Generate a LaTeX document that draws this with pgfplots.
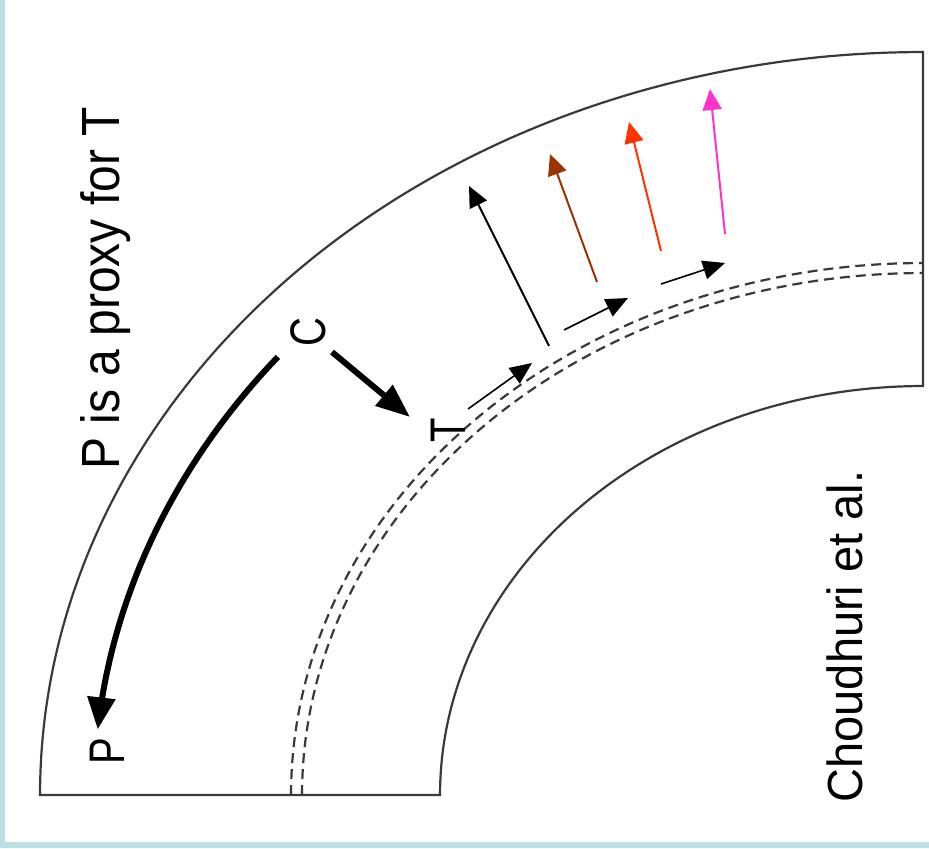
\documentclass[border=0pt]{standalone}
\usepackage{pgfplots}
\pgfplotsset{compat=1.18}
\usepackage{fontspec}
\setmainfont{Liberation Sans}
\usetikzlibrary{arrows.meta}
\definecolor{frameblue}{HTML}{B9E0E3}
\definecolor{linegray}{HTML}{3A3A3A}
\definecolor{brownc}{HTML}{993300}
\definecolor{redc}{HTML}{FF3300}
\definecolor{magc}{HTML}{FF33CC}
\begin{document}
\begin{tikzpicture}
\begin{axis}[
  scale only axis, width=464.5pt, height=424pt,
  xmin=0, xmax=929, ymin=-848, ymax=0,
  hide axis, clip=false,
]
% frame
\fill[frameblue] (0,-848) rectangle (929,0);
\fill[white] (5,-842) rectangle (929,0);
% quarter annulus outline
\draw[linegray, line width=1.1pt, line join=miter, variable=\t, samples=120]
  (440,-795) -- (40,-795)
  -- plot[domain=180:90] ({923+883*cos(\t)},{-795+743*sin(\t)})
  -- (923,-386)
  -- plot[domain=90:180] ({923+483*cos(\t)},{-795+409*sin(\t)})
  -- cycle;
% dashed arcs
\draw[linegray, line width=1.1pt, dash pattern=on 5pt off 3pt, variable=\t, samples=120, domain=180:90]
  plot ({923+621*cos(\t)},{-795+522*sin(\t)});
\draw[linegray, line width=1.1pt, dash pattern=on 5pt off 3pt, variable=\t, samples=120, domain=180:90]
  plot ({923+632*cos(\t)},{-795+532*sin(\t)});
% curved thick arrow C -> P
\draw[black, line width=3pt, -{Triangle[length=16pt,width=13.5pt]}, variable=\t, samples=60, domain=141.1:174.6]
  plot ({923+829*cos(\t)},{-795+697.7*sin(\t)});
% thick straight arrow C -> T
\addplot[black, line width=3pt, -{Triangle[length=17pt,width=13pt]}] coordinates {(332,-352) (410,-417)};
% thin arrows along the dashed layer
\addplot[black, line width=0.8pt, -{Triangle[length=11pt,width=9.5pt]}] coordinates {(468,-409) (532,-363)};
\addplot[black, line width=0.8pt, -{Triangle[length=11pt,width=9.5pt]}] coordinates {(564,-330) (628,-298)};
\addplot[black, line width=0.8pt, -{Triangle[length=11pt,width=9.5pt]}] coordinates {(661,-284) (725,-263)};
% long arrows
\addplot[black, line width=1pt, -{Triangle[length=10.5pt,width=9.5pt]}] coordinates {(549,-346) (469,-186)};
\addplot[brownc, line width=1pt, -{Triangle[length=10.5pt,width=9.5pt]}] coordinates {(597,-282) (550,-154)};
\addplot[redc, line width=1pt, -{Triangle[length=10.5pt,width=9.5pt]}] coordinates {(661,-251) (629,-122)};
\addplot[magc, line width=1pt, -{Triangle[length=10.5pt,width=9.5pt]}] coordinates {(725,-234) (710,-89)};
% texts
\node[rotate=90, yscale=1.12, anchor=base, font=\fontsize{24}{28}\selectfont] at (119,-288.5) {P is a proxy for T};
\node[rotate=90, yscale=1.05, anchor=base, font=\fontsize{23.5}{28}\selectfont] at (862,-636.5) {Choudhuri et al.};
\node[rotate=90, yscale=1.25, font=\fontsize{20}{24}\selectfont] at (308,-332) {C};
\node[rotate=90, yscale=1.25, font=\fontsize{20}{24}\selectfont] at (448,-430) {T};
\node[rotate=90, yscale=1.25, font=\fontsize{20}{24}\selectfont] at (107,-751) {P};
\end{axis}
\end{tikzpicture}
\end{document}
